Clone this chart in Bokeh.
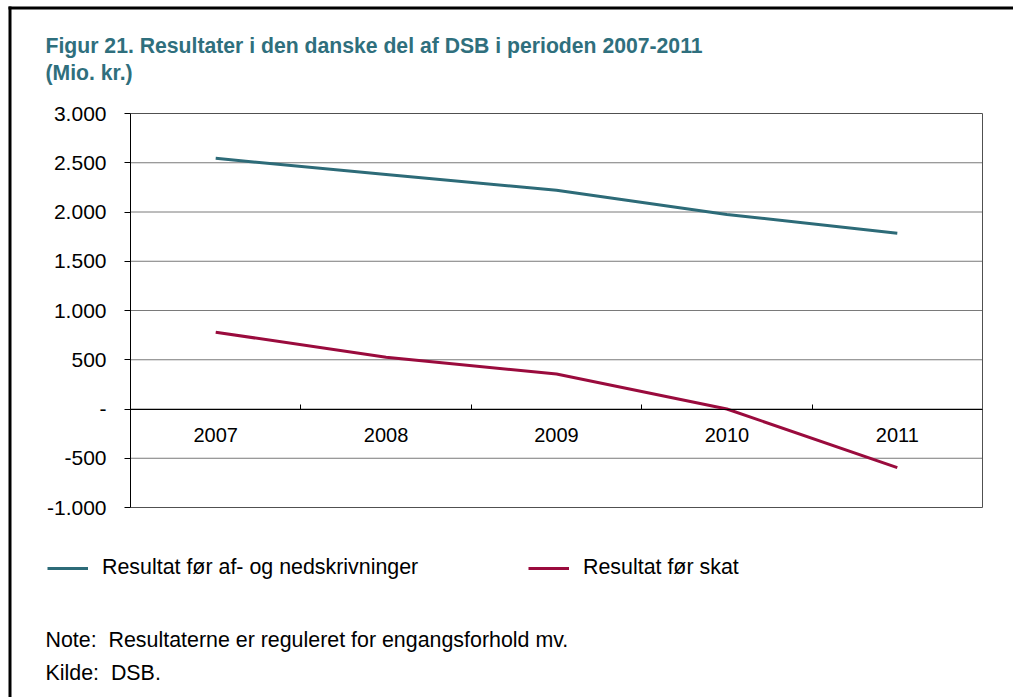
from bokeh.plotting import figure
from bokeh.models import (Range1d, LinearAxis, FixedTicker, Label, Legend, LegendItem,
                          BoxAnnotation)
from bokeh.embed import file_html
from bokeh.resources import INLINE

# ---- data ----
years = ["2007", "2008", "2009", "2010", "2011"]
res_foer_afskriv = [2545, 2380, 2220, 1975, 1785]
res_foer_skat = [780, 525, 355, 0, -595]
y_ticks = [-1000, -500, 0, 500, 1000, 1500, 2000, 2500, 3000]
y_tick_labels = ["-1.000", "-500", "-", "500", "1.000", "1.500", "2.000", "2.500", "3.000"]

title_1 = "Figur 21. Resultater i den danske del af DSB i perioden 2007-2011"
title_2 = "(Mio. kr.)"
series_names = ["Resultat før af- og nedskrivninger", "Resultat før skat"]
note_text = "Note:\u00a0\u00a0Resultaterne er reguleret for engangsforhold mv."
source_text = "Kilde:\u00a0\u00a0DSB."

TEAL = "#2D6B78"
RED = "#9A0B3D"
TITLE_COL = "#2F6F7D"
GRID = "#7a7a7a"
FONT = "Liberation Sans"

W, H = 1013, 697
# pixel placement of the plotting area inside the canvas
PL, PR, PT, PB = 130, 982, 113, 507

n = len(years)
x_pos = [i + 0.5 for i in range(n)]
boundaries = list(range(1, n))
ymin, ymax = y_ticks[0], y_ticks[-1]

xs = n / (PR - PL)             # data units per px
ys = (ymax - ymin) / (PB - PT)
x_range = Range1d(0 - PL * xs, n + (W - PR) * xs)
y_range = Range1d(ymin - (H - PB) * ys, ymax + PT * ys)

p = figure(width=W, height=H, output_backend="svg", toolbar_location=None,
           x_range=x_range, y_range=y_range,
           x_axis_location=None, y_axis_location=None,
           min_border=0)
p.background_fill_color = "white"
p.border_fill_color = "white"
p.outline_line_color = None
for g in p.grid:
    g.visible = False

# grid lines and plot-area border
inner = [t for t in y_ticks if t not in (ymin, ymax)]
p.segment(x0=[0] * len(inner), x1=[n] * len(inner), y0=inner, y1=inner,
          line_color=GRID, line_width=1)
p.segment(x0=[0, 0, n], x1=[n, n, n], y0=[ymax, ymin, ymin], y1=[ymax, ymin, ymax],
          line_color="#505050", line_width=1)

# y axis
yax = LinearAxis(ticker=FixedTicker(ticks=y_ticks), fixed_location=0, bounds=(ymin, ymax))
yax.major_label_overrides = dict(zip(y_ticks, y_tick_labels))
yax.major_label_text_font = FONT
yax.major_label_text_font_size = "21px"
yax.major_label_text_color = "black"
yax.major_tick_out = 6
yax.major_tick_in = 0
yax.minor_tick_line_color = None
yax.major_label_standoff = 18
yax.axis_line_color = "black"
yax.major_tick_line_color = "black"
p.add_layout(yax, "left")

# x axis at zero: labels
xlab = LinearAxis(ticker=FixedTicker(ticks=x_pos), fixed_location=0, bounds=(0, n))
xlab.major_label_overrides = dict(zip(x_pos, years))
xlab.major_tick_line_color = None
xlab.minor_tick_line_color = None
xlab.major_label_text_font = FONT
xlab.major_label_text_font_size = "20px"
xlab.major_label_text_color = "black"
xlab.major_label_standoff = 13
xlab.axis_line_color = "black"
p.add_layout(xlab, "below")

# x axis at zero: boundary ticks
xtk = LinearAxis(ticker=FixedTicker(ticks=boundaries), fixed_location=0, bounds=(0, n))
xtk.major_label_overrides = {b: "" for b in boundaries}
xtk.major_tick_in = 5
xtk.major_tick_out = 0
xtk.major_tick_line_color = "black"
xtk.minor_tick_line_color = None
xtk.axis_line_color = None
p.add_layout(xtk, "below")

# lines
r1 = p.line(x_pos, res_foer_afskriv, line_color=TEAL, line_width=3, line_join="round")
r2 = p.line(x_pos, res_foer_skat, line_color=RED, line_width=3, line_join="round")

legend = Legend(items=[LegendItem(label=series_names[0], renderers=[r1]),
                       LegendItem(label=series_names[1], renderers=[r2])],
                orientation="horizontal", location=(47, H - 580),
                padding=0, margin=0, spacing=0, glyph_width=41, glyph_height=22,
                label_height=22, label_width=426, label_standoff=14,
                label_text_font=FONT, label_text_font_size="21.4px",
                label_text_color="black", background_fill_alpha=0,
                border_line_color=None)
p.add_layout(legend, "center")

def add_text(txt, cx, cy, bold=False, color="black", size="21.4px"):
    p.add_layout(Label(x=cx, y=H - cy, x_units="screen", y_units="screen",
                       text=txt, text_font=FONT, text_font_size=size,
                       text_color=color, text_font_style="bold" if bold else "normal",
                       text_baseline="middle", text_align="left"))

add_text(title_1, 45, 45, bold=True, color=TITLE_COL, size="21.2px")
add_text(title_2, 45, 72, bold=True, color=TITLE_COL, size="21.2px")
add_text(note_text, 45, 639)
add_text(source_text, 45, 672)

# outer frame lines (left and top)
p.add_layout(BoxAnnotation(left=8, right=11, top=H - 6, bottom=0, left_units="screen",
                           right_units="screen", top_units="screen", bottom_units="screen",
                           fill_color="black", fill_alpha=1, line_color=None))
p.add_layout(BoxAnnotation(left=8, right=W, top=H - 6, bottom=H - 9, left_units="screen",
                           right_units="screen", top_units="screen", bottom_units="screen",
                           fill_color="black", fill_alpha=1, line_color=None))

open("out.html", "w").write(file_html(p, INLINE))
